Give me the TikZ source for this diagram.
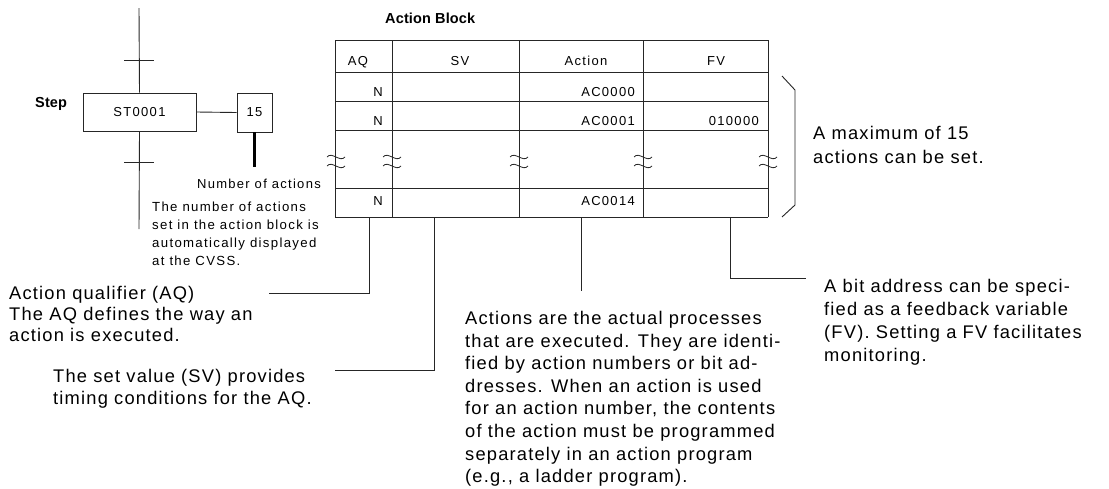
\documentclass[tikz,border=0pt]{standalone}
\usepackage{fontspec}
\setmainfont{Liberation Sans}
\newfontfamily\lsmain{Liberation Sans}[LetterSpace=6.5,Ligatures=NoCommon]
\newfontfamily\lssmall{Liberation Sans}[LetterSpace=10,Ligatures=NoCommon]
\newfontfamily\lsbold{Liberation Sans}[LetterSpace=1,Ligatures=NoCommon]
\begin{document}
\begin{tikzpicture}[x=1pt,y=-1pt,
  ln/.style={line width=0.9pt, draw=black!85},
  big/.style={font=\lsmain\fontsize{18.3}{#1}\selectfont, align=left, inner sep=0pt, anchor=north west, execute at begin node=\rule{0pt}{14pt}},
  small/.style={font=\lssmall\fontsize{13.2}{#1}\selectfont, align=left, inner sep=0pt, anchor=north west, execute at begin node=\rule{0pt}{10.5pt}},
  cell/.style={font=\lssmall\fontsize{13}{15}\selectfont, inner sep=0pt},
  boldlbl/.style={font=\lsbold\bfseries\fontsize{14.5}{17}\selectfont, inner sep=0pt, anchor=base west},
  box/.style={ln, draw, fill=white, inner sep=0pt, font=\lssmall\fontsize{13}{15}\selectfont},
  squig/.style={line width=0.8pt, draw=black!85}
]
\useasboundingbox (0,0) rectangle (1109,488);

% ---------- step part ----------
\node[boldlbl] (steplbl) at (35,107) {Step};
\node[box, minimum width=113pt, minimum height=38pt] (st) at (139.5,112) {ST0001};
\node[box, minimum width=35pt, minimum height=39pt] (n15) at (254.5,112.5) {15};
\coordinate (railtop) at (139,8);
\coordinate (railbot) at (139,229);
\draw[ln] (railtop) -- (st.north);
\draw[ln] (st.south) -- (railbot);
\coordinate (t1a) at (124,60); \coordinate (t1b) at (154,60);
\coordinate (t2a) at (124,162); \coordinate (t2b) at (154,162);
\draw[ln] (t1a) -- (t1b);
\draw[ln] (t2a) -- (t2b);
\draw[ln] (st.east) -- (n15.west);
\coordinate (numend) at (254.5,167);
\draw[line width=2.2pt] (n15.south) -- (numend);
\node[cell, anchor=base east] (numlbl) at (321,188) {Number of actions};
\node[small=18] (numtxt) at (152,201.5) {The number of actions\\set in the action block is\\automatically displayed\\at the CVSS.};

% ---------- action block ----------
\node[boldlbl] (ablbl) at (385,23) {Action Block};
\foreach \yy in {40,72,101,130,188,217} \draw[ln] (335,\yy) -- (768,\yy);
\foreach \xx in {335,392,519,643,768} \draw[ln] (\xx,40) -- (\xx,217);
\foreach \xx in {336,392,519,643,768} {
  \draw[squig] (\xx-9,157) .. controls (\xx-4,151) and (\xx+4,163) .. (\xx+9,157);
  \draw[squig] (\xx-9,166) .. controls (\xx-4,160) and (\xx+4,172) .. (\xx+9,166);
}
\node[cell, anchor=base] (hAQ) at (358,65) {AQ};
\node[cell, anchor=base] (hSV) at (460,65) {SV};
\node[cell, anchor=base] (hAct) at (586,65) {Action};
\node[cell, anchor=base] (hFV) at (716,65) {FV};
\node[cell, anchor=base east] (r1a) at (383,96) {N};
\node[cell, anchor=base east] (r1c) at (635,96) {AC0000};
\node[cell, anchor=base east] (r2a) at (383,125) {N};
\node[cell, anchor=base east] (r2c) at (635,125) {AC0001};
\node[cell, anchor=base east] (r2d) at (759,125) {010000};
\node[cell, anchor=base east] (r3a) at (383,205) {N};
\node[cell, anchor=base east] (r3c) at (635,205) {AC0014};

% bracket
\coordinate (b1) at (782,76); \coordinate (b2) at (795,90);
\coordinate (b3) at (795,205); \coordinate (b4) at (782,217);
\draw[ln] (b1) -- (b2) -- (b3) -- (b4);
\node[big=24] (maxtxt) at (813,126) {A maximum of 15\\actions can be set.};

% ---------- callouts ----------
\coordinate (aq0) at (369,217); \coordinate (aq1) at (369,293); \coordinate (aq2) at (269,293);
\coordinate (sv0) at (434,217); \coordinate (sv1) at (434,370); \coordinate (sv2) at (335,370);
\coordinate (ac0) at (581,217); \coordinate (ac1) at (581,291);
\coordinate (fv0) at (730,217); \coordinate (fv1) at (730,278); \coordinate (fv2) at (806,278);
\draw[ln] (aq0) -- (aq1) -- (aq2);
\draw[ln] (sv0) -- (sv1) -- (sv2);
\draw[ln] (ac0) -- (ac1);
\draw[ln] (fv0) -- (fv1) -- (fv2);

\node[big=21] (aqtxt) at (9,286) {Action qualifier (AQ)\\The AQ defines the way an\\action is executed.};
\node[big=22] (svtxt) at (53,369) {The set value (SV) provides\\timing conditions for the AQ.};
\node[big=22.6] (actxt) at (465,311) {Actions are the actual processes\\that are executed. They are identi-\\fied by action numbers or bit ad-\\dresses. When an action is used\\for an action number, the contents\\of the action must be programmed\\separately in an action program\\(e.g., a ladder program).};
\node[big=23] (fvtxt) at (824,279) {A bit address can be speci-\\fied as a feedback variable\\(FV). Setting a FV facilitates\\monitoring.};
\end{tikzpicture}
\end{document}
